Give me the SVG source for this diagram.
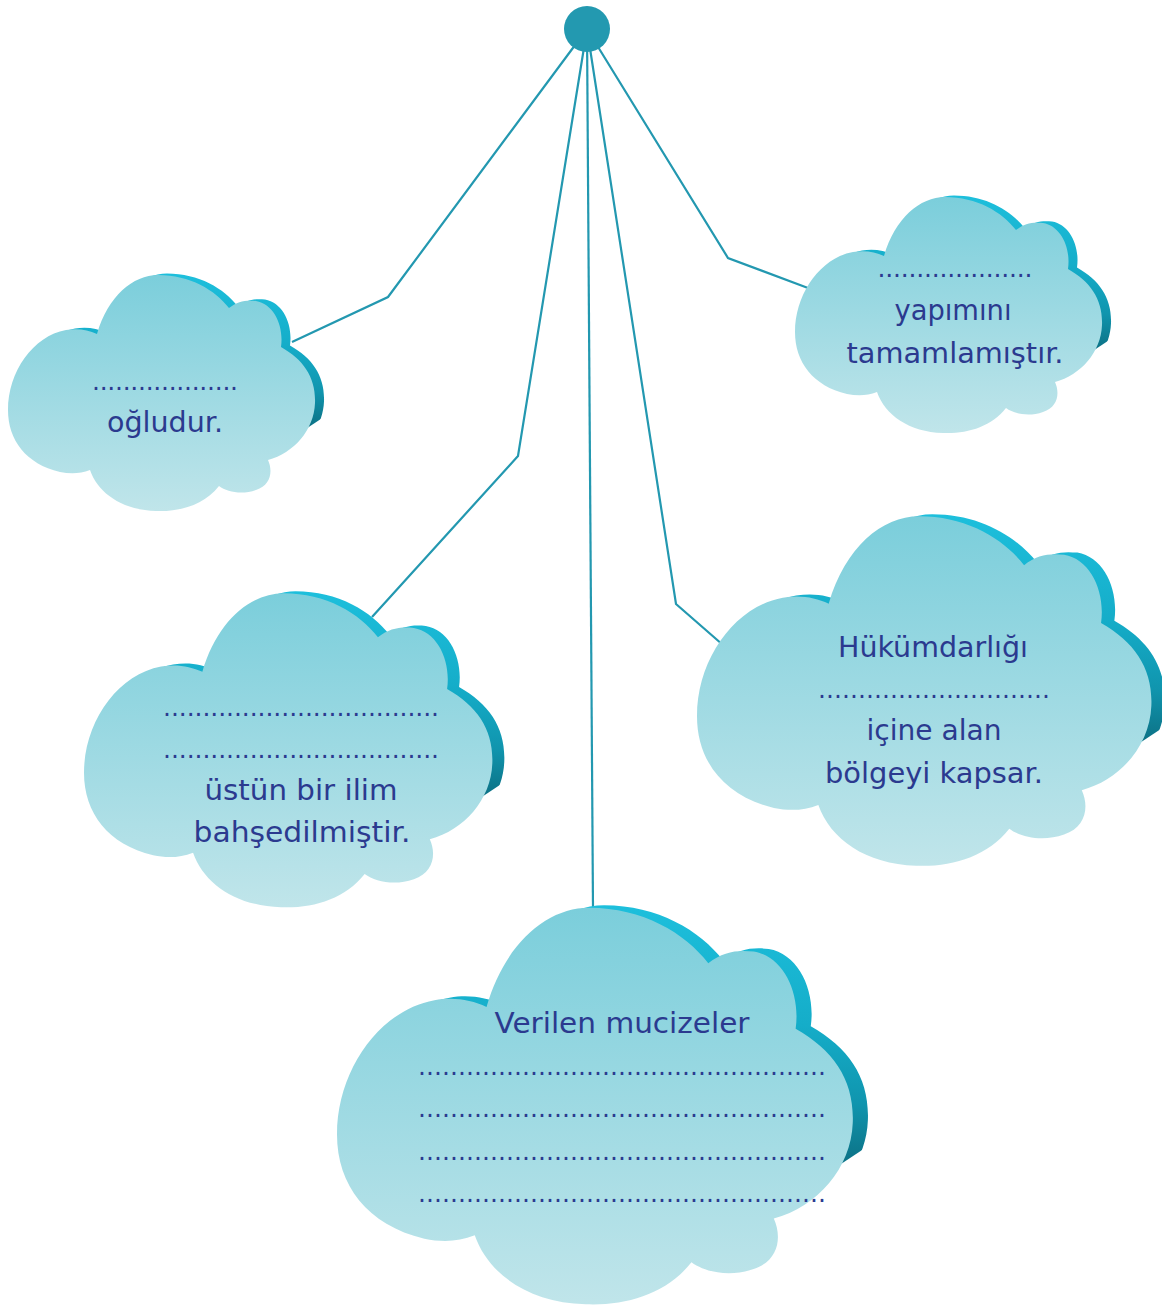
<svg xmlns="http://www.w3.org/2000/svg" width="1162" height="1308" viewBox="0 0 1162 1308">
<style>
.t{font-family:"DejaVu Sans","Liberation Sans",sans-serif;font-size:29px;fill:#2b3a8f;text-anchor:middle}
.d{font-family:"DejaVu Sans","Liberation Sans",sans-serif;font-size:25px;fill:#2b3a8f;text-anchor:middle}
.conn{fill:none;stroke:#2398b0;stroke-width:2.2;stroke-linejoin:miter}
</style>
<defs>
<linearGradient id="gFront" x1="0" y1="0" x2="0" y2="1">
<stop offset="0" stop-color="#7bcedb"/>
<stop offset="1" stop-color="#c0e5ea"/>
</linearGradient>
<linearGradient id="gSide" x1="0" y1="0" x2="0" y2="1">
<stop offset="0" stop-color="#1dbfdc"/>
<stop offset="0.3" stop-color="#15adc9"/>
<stop offset="0.5" stop-color="#1095ae"/>
<stop offset="0.7" stop-color="#0b6678"/>
</linearGradient>
<path id="cloudPath" d="M89,66 C100,28 125,7 150,7 C182,7 207,22 221,40 C230,33 238,32 248,33 C266,36 276,58 273,79 C296,92 308,110 307,135 C306,162 286,185 260,192 C265,203 263,217 248,222 C234,227 219,224 211,218 C196,237 172,244 148,243 C114,242 90,225 82,202 C72,206 62,206 52,204 C18,196 0,172 0,142 C0,104 25,68 58,62 C70,60 80,62 89,66 Z"/>
<clipPath id="sideClip"><path d="M-20,-20H340V133L260,186H-20Z"/></clipPath>
<g id="cloud">
<g clip-path="url(#sideClip)"><use href="#cloudPath" transform="translate(9,-1.5)" fill="url(#gSide)"/></g>
<use href="#cloudPath" fill="url(#gFront)"/>
</g>
</defs>
<rect width="1162" height="1308" fill="#ffffff"/>
<g id="connectors">
<polyline class="conn" points="587,29 388,297 292,342"/>
<polyline class="conn" points="587,29 518,456 372,617"/>
<polyline class="conn" points="587,29 593,908"/>
<polyline class="conn" points="587,29 676,604 723,645"/>
<polyline class="conn" points="587,29 728,258 808,288"/>
</g>
<g id="hub"><circle cx="587" cy="29" r="23" fill="#2399b0"/></g>
<g id="node-1">
<use href="#cloud" transform="translate(8,268)"/>
<text class="d" x="165" y="390" textLength="146" lengthAdjust="spacing">...................</text>
<text class="t" x="165" y="432" textLength="116" lengthAdjust="spacingAndGlyphs">oğludur.</text>
</g>
<g id="node-2">
<use href="#cloud" transform="translate(795,190)"/>
<text class="d" x="955" y="277" textLength="155" lengthAdjust="spacing">....................</text>
<text class="t" x="953" y="320" textLength="117" lengthAdjust="spacingAndGlyphs">yapımını</text>
<text class="t" x="955" y="363" textLength="217" lengthAdjust="spacingAndGlyphs">tamamlamıştır.</text>
</g>
<g id="node-3">
<use href="#cloud" transform="translate(84,584) scale(1.33)"/>
<text class="d" x="301" y="716" textLength="276" lengthAdjust="spacing">...................................</text>
<text class="d" x="301" y="758" textLength="276" lengthAdjust="spacing">...................................</text>
<text class="t" x="301" y="800" textLength="193" lengthAdjust="spacingAndGlyphs">üstün bir ilim</text>
<text class="t" x="302" y="842" textLength="217" lengthAdjust="spacingAndGlyphs">bahşedilmiştir.</text>
</g>
<g id="node-4">
<use href="#cloud" transform="translate(697,506) scale(1.48)"/>
<text class="t" x="933" y="657" textLength="190" lengthAdjust="spacingAndGlyphs">Hükümdarlığı</text>
<text class="d" x="934" y="698" textLength="232" lengthAdjust="spacing">.............................</text>
<text class="t" x="934" y="740" textLength="135" lengthAdjust="spacingAndGlyphs">içine alan</text>
<text class="t" x="934" y="783" textLength="218" lengthAdjust="spacingAndGlyphs">bölgeyi kapsar.</text>
</g>
<g id="node-5">
<use href="#cloud" transform="translate(337,896) scale(1.68)"/>
<text class="t" x="622" y="1033" textLength="255" lengthAdjust="spacingAndGlyphs">Verilen mucizeler</text>
<text class="d" x="622" y="1075" textLength="408" lengthAdjust="spacing">...................................................</text>
<text class="d" x="622" y="1117" textLength="408" lengthAdjust="spacing">...................................................</text>
<text class="d" x="622" y="1160" textLength="408" lengthAdjust="spacing">...................................................</text>
<text class="d" x="622" y="1202" textLength="408" lengthAdjust="spacing">...................................................</text>
</g>
</svg>
